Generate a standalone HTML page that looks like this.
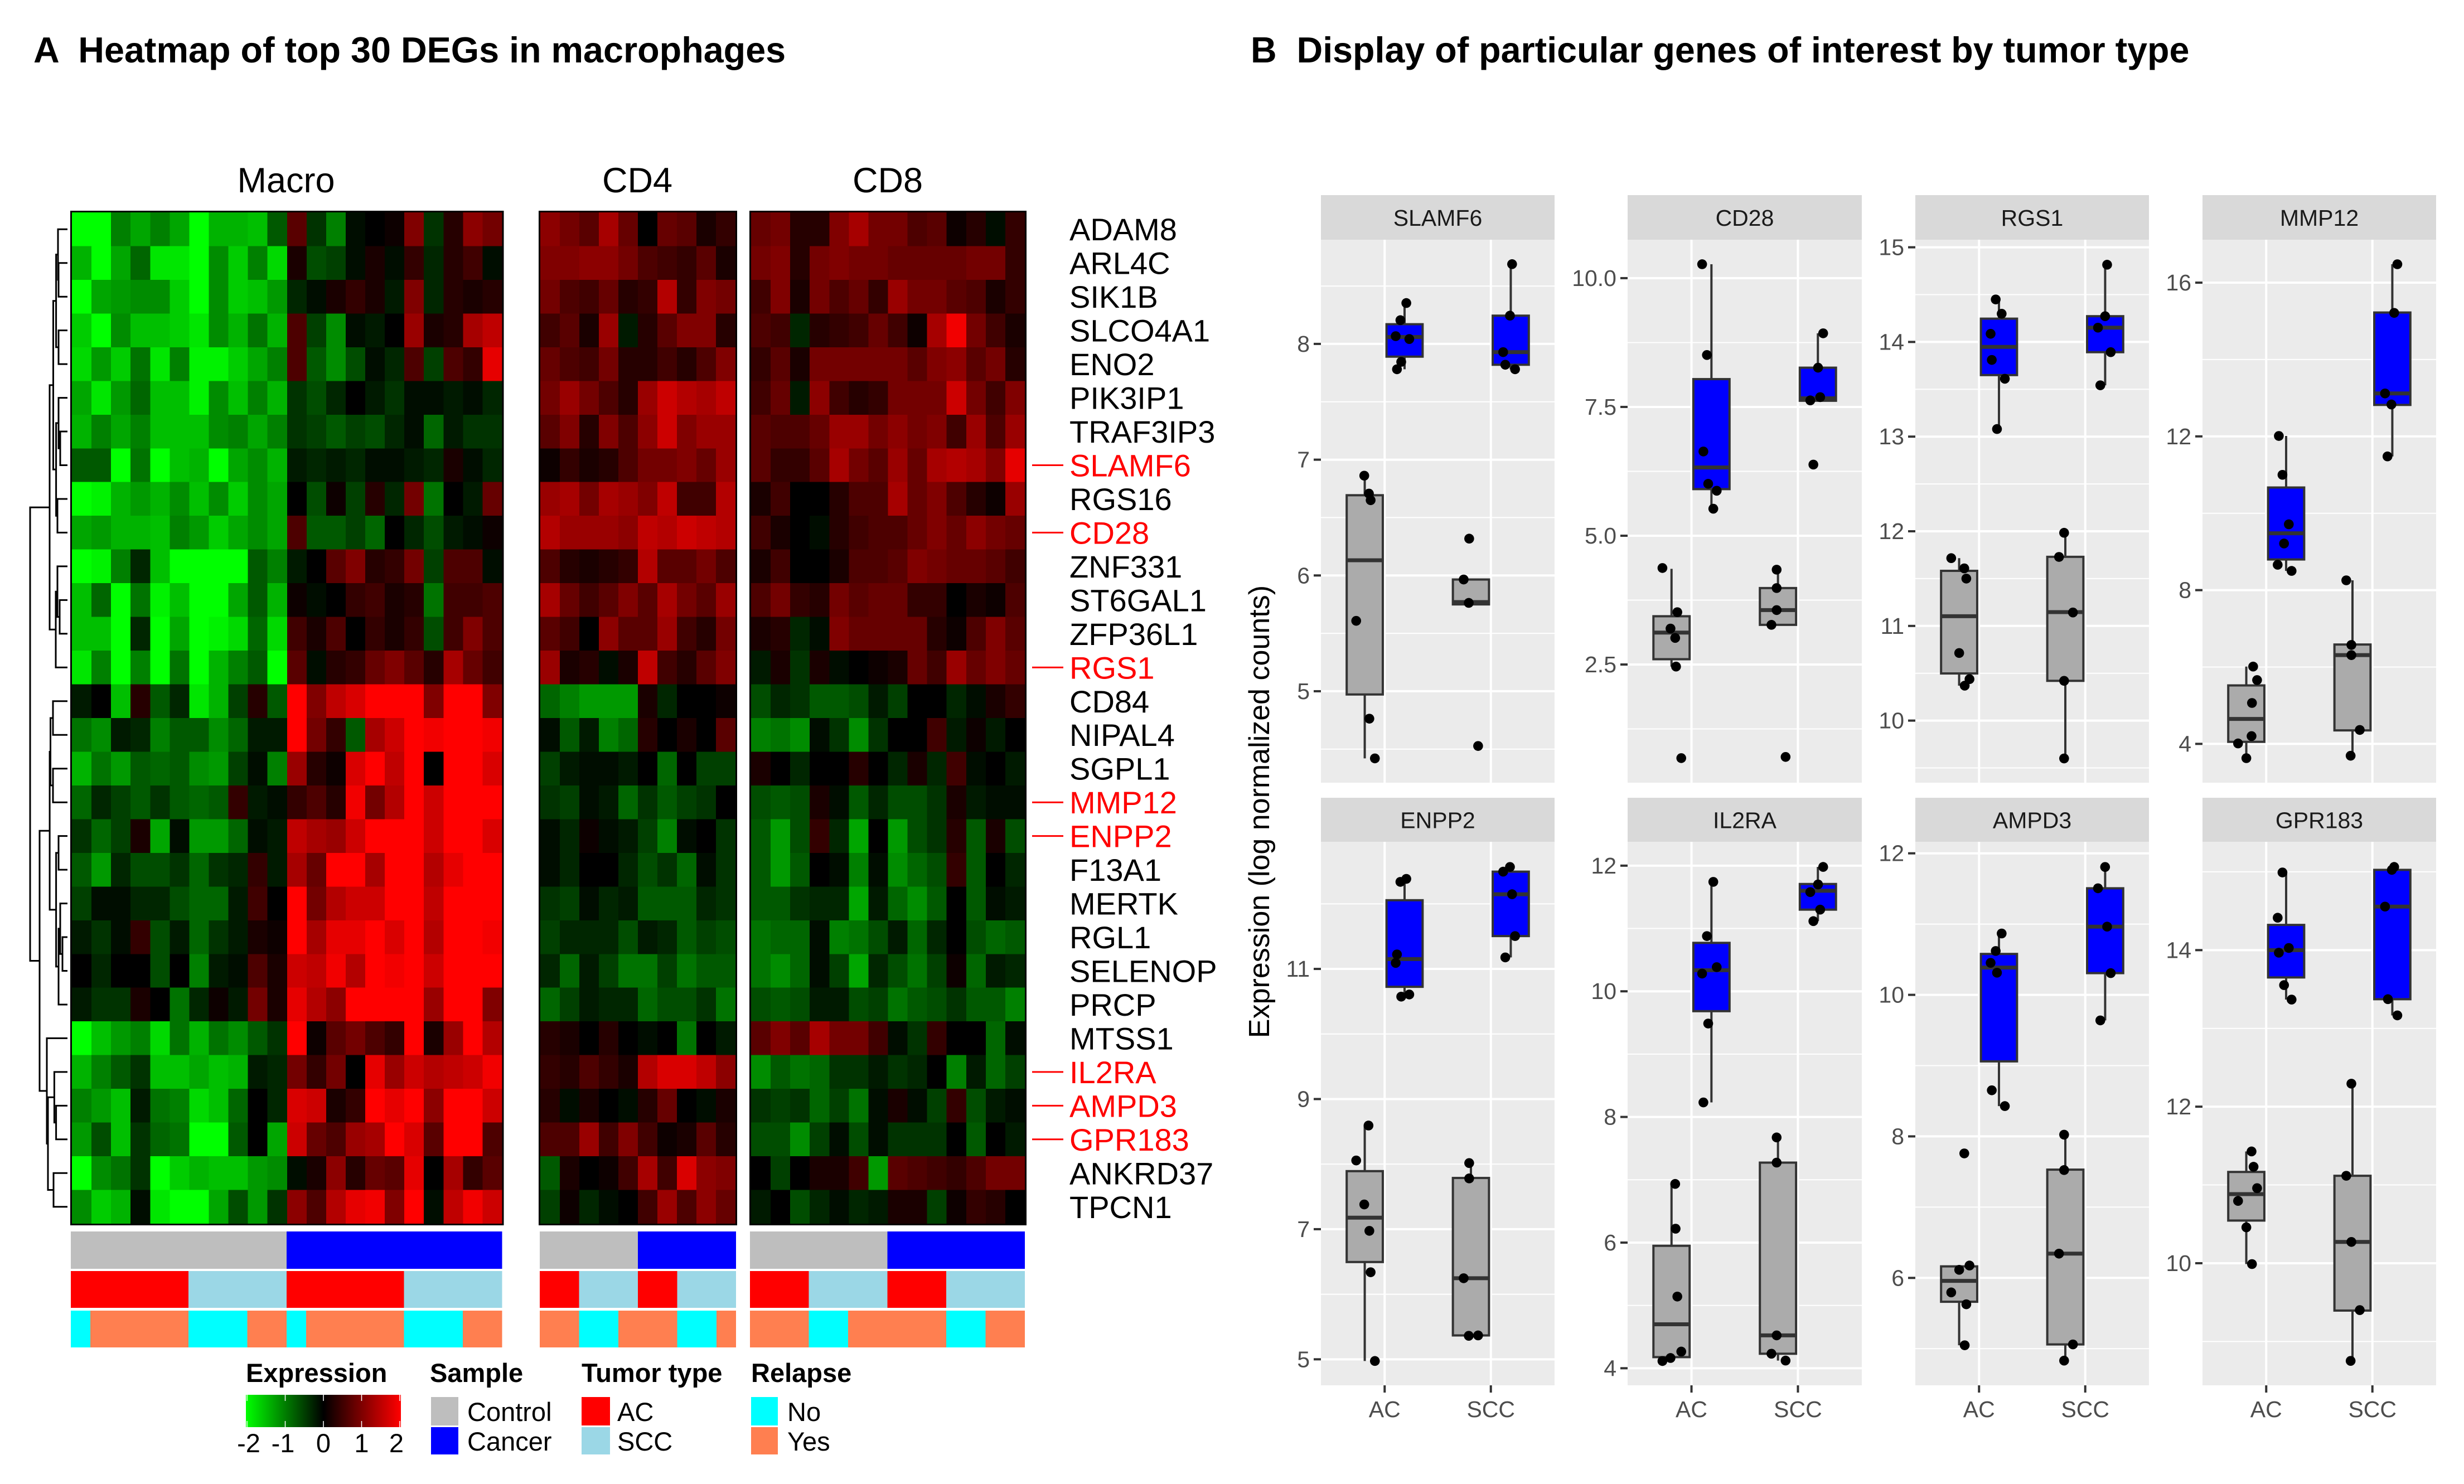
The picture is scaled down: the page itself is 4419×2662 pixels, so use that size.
<!DOCTYPE html>
<html lang="en">
<head>
<meta charset="utf-8">
<title>Heatmap of top 30 DEGs and genes of interest by tumor type</title>
<style>
html,body{margin:0;padding:0;background:#fff}
svg{display:block;font-family:"Liberation Sans",Arial,sans-serif}
</style>
</head>
<body>
<svg id="figure" xmlns="http://www.w3.org/2000/svg" width="4419" height="2662" viewBox="0 0 4419 2662">
<defs>
<linearGradient id="exprGrad" x1="0" x2="1" y1="0" y2="0">
<stop offset="0" stop-color="#00ff00"/><stop offset="0.5" stop-color="#000000"/><stop offset="1" stop-color="#ff0000"/>
</linearGradient>
</defs>
<rect x="0" y="0" width="4419" height="2662" fill="#fff"/>
<text x="60" y="112" font-size="64.7" font-weight="bold" xml:space="preserve">A  Heatmap of top 30 DEGs in macrophages</text>
<text x="2243" y="112" font-size="64.6" font-weight="bold" xml:space="preserve">B  Display of particular genes of interest by tumor type</text>
<text x="513" y="345" font-size="63" text-anchor="middle">Macro</text>
<text x="1143" y="345" font-size="63" text-anchor="middle">CD4</text>
<text x="1592" y="345" font-size="63" text-anchor="middle">CD8</text>
<g id="heat"></g>
<g id="dendro" fill="none" stroke="#000" stroke-width="3"></g>
<g id="genes"></g>
<g id="anno"></g>
<g>
<text x="441" y="2479" font-size="47" font-weight="bold">Expression</text>
<rect x="441" y="2502" width="278" height="58" fill="url(#exprGrad)"/>
<g id="cbTicks"></g>
<text x="771" y="2479" font-size="47" font-weight="bold">Sample</text>
<rect x="773" y="2506" width="49" height="51" fill="#bebebe"/>
<rect x="773" y="2560" width="49" height="49" fill="#0000ff"/>
<text x="838" y="2549" font-size="47">Control</text>
<text x="838" y="2602" font-size="47">Cancer</text>
<text x="1043" y="2479" font-size="47" font-weight="bold">Tumor type</text>
<rect x="1043" y="2506" width="51" height="51" fill="#ff0000"/>
<rect x="1043" y="2560" width="51" height="49" fill="#9bd7e6"/>
<text x="1107" y="2549" font-size="47">AC</text>
<text x="1107" y="2602" font-size="47">SCC</text>
<text x="1347" y="2479" font-size="47" font-weight="bold">Relapse</text>
<rect x="1347" y="2506" width="48" height="51" fill="#00ffff"/>
<rect x="1347" y="2560" width="48" height="49" fill="#ff7f50"/>
<text x="1412" y="2549" font-size="47">No</text>
<text x="1412" y="2602" font-size="47">Yes</text>
</g>
<g id="facets"></g>
<text transform="translate(2276,1456) rotate(-90)" font-size="52" text-anchor="middle">Expression (log normalized counts)</text>
</svg>
<script>
// ---------- heatmap data (z-score × 10) ----------
const geneNames = ["ADAM8","ARL4C","SIK1B","SLCO4A1","ENO2","PIK3IP1","TRAF3IP3","SLAMF6","RGS16","CD28","ZNF331","ST6GAL1","ZFP36L1","RGS1","CD84","NIPAL4","SGPL1","MMP12","ENPP2","F13A1","MERTK","RGL1","SELENOP","PRCP","MTSS1","IL2RA","AMPD3","GPR183","ANKRD37","TPCN1"];
const highlightedGenes = ["SLAMF6","CD28","RGS1","MMP12","ENPP2","IL2RA","AMPD3","GPR183"];
const macroValues = [
[-20,-20,-10,-13,-10,-13,-20,-14,-14,-15,-7,7,-4,-10,-1,0,1,10,-4,3,11,9],
[-14,-20,-13,-8,-18,-18,-20,-11,-16,-10,-17,2,-6,-5,-1,2,-1,4,-3,3,5,-1],
[-20,-13,-12,-11,-11,-16,-20,-11,-16,-15,-12,-3,-1,2,4,2,-2,10,-3,3,2,3],
[-16,-20,-11,-15,-15,-16,-18,-11,-14,-9,-14,6,-5,-11,-1,-2,0,12,2,3,13,15],
[-17,-12,-16,-9,-18,-10,-19,-19,-16,-13,-10,6,-7,-11,-6,-1,-3,6,-5,6,4,18],
[-13,-18,-12,-8,-15,-15,-19,-11,-15,-10,-14,-4,-6,-3,0,-2,-4,-1,-1,-2,-1,-3],
[-14,-10,-13,-10,-15,-15,-15,-11,-10,-13,-10,-4,-5,-7,-5,-6,-3,-1,-8,-2,-4,-4],
[-7,-7,-20,-9,-20,-15,-14,-20,-13,-11,-14,-2,-3,-2,-3,-1,-1,-2,-3,2,-1,-3],
[-20,-19,-14,-12,-14,-11,-15,-11,-16,-11,-13,0,-6,1,-5,3,-3,9,-9,0,-2,8],
[-13,-12,-14,-14,-15,-10,-12,-16,-13,-11,-13,6,-7,-7,-5,-8,0,-3,-6,-2,-1,1],
[-20,-19,-10,-3,-15,-20,-20,-20,-20,-7,-10,-2,0,7,10,3,4,9,-5,6,6,-1],
[-15,-8,-20,-9,-19,-15,-20,-20,-13,-7,-14,1,-1,0,4,5,2,3,-9,5,5,6],
[-15,-15,-20,-3,-20,-13,-20,-19,-17,-8,-17,5,2,6,0,4,2,4,-6,5,10,6],
[-18,-10,-20,-10,-20,-9,-20,-14,-10,-7,-20,7,-1,3,4,8,10,7,3,13,8,5],
[-2,0,-15,3,-7,-3,-18,-14,-5,3,-7,20,10,15,17,20,20,20,10,20,20,10],
[-9,-11,-2,-3,-10,-7,-7,-11,-8,-2,-2,20,9,4,-7,13,16,20,19,20,20,19],
[-14,-9,-12,-7,-8,-7,-11,-12,-5,-1,-10,12,3,1,17,20,15,20,0,20,20,17],
[-8,-3,-5,-7,-4,-7,-8,-7,4,-2,-1,4,6,3,19,9,14,20,16,20,20,20],
[-4,-8,-5,2,-13,-1,-12,-12,-8,-1,-2,15,13,12,16,20,20,20,16,20,20,17],
[-7,-12,-3,-6,-6,-4,-8,-4,-3,4,-2,13,8,20,20,13,20,20,14,18,20,20],
[-5,-1,-1,-3,-3,-6,-8,-8,-2,5,0,20,9,14,16,16,20,20,15,20,20,20],
[-2,-4,-1,4,-6,-2,-8,-4,-2,2,1,20,13,18,18,20,17,20,14,20,20,19],
[0,-3,0,0,-6,0,-10,-2,-1,6,2,16,15,19,14,20,19,20,16,20,20,20],
[-2,-4,-4,2,0,-9,-3,1,-2,9,2,18,14,11,20,20,20,20,12,20,20,10],
[-20,-15,-12,-10,-17,-9,-14,-9,-11,-7,-4,20,1,7,9,6,4,20,2,12,20,14],
[-14,-10,-7,-4,-15,-15,-13,-15,-14,-2,-3,9,4,9,0,18,12,16,14,15,16,19],
[-10,-12,-15,-2,-9,-10,-17,-15,-8,0,-3,17,16,2,4,20,18,20,11,20,20,16],
[-12,-6,-15,-4,-8,-9,-20,-20,-7,0,-13,16,8,6,12,13,20,17,7,20,20,6],
[-20,-11,-9,-4,-20,-16,-14,-15,-15,-12,-11,-1,2,11,3,8,7,18,0,13,4,7],
[-11,-16,-14,-1,-18,-20,-20,-13,-6,-12,-4,11,6,14,18,19,10,20,-1,15,19,16]
];
const cd4Values = [
[11,9,7,13,8,0,8,7,2,4],[10,10,11,11,9,6,5,4,7,2],[9,6,5,8,3,4,14,4,10,9],[5,7,2,12,-2,3,7,10,10,3],[8,6,5,9,3,3,5,3,6,10],
[9,12,9,6,3,12,16,14,13,15],[7,10,3,10,6,11,16,10,12,12],[1,4,2,3,6,9,9,10,8,12],[12,13,9,13,12,10,15,5,5,14],[14,12,12,12,11,15,14,16,15,14],
[6,3,2,3,4,14,7,7,9,6],[13,8,5,7,10,7,13,9,7,12],[7,5,0,11,7,7,12,5,3,9],[12,2,3,-1,2,15,5,3,7,10],[-8,-10,-12,-12,-12,2,-3,0,0,1],
[-1,-7,-2,-10,-8,3,0,2,0,7],[-5,-2,-1,-1,-2,0,-8,0,-5,-5],[-4,-5,-1,-2,-8,-4,-7,-5,-4,0],[-1,-3,1,-1,-2,-5,-10,-1,0,-4],[-1,-3,0,0,-3,-6,-4,-8,-1,-4],
[-4,-5,-1,-3,-2,-7,-7,-7,-3,-4],[-5,-3,-3,-3,-6,-2,-3,-7,-5,-6],[-3,-8,-2,-5,-9,-9,-5,-9,-7,-7],[-8,-5,-2,-3,-3,-8,-6,-6,-4,-9],[3,2,0,3,0,-1,0,-9,0,-2],
[4,3,6,4,2,14,17,17,15,11],[3,-1,2,0,-1,3,8,0,-1,2],[6,6,12,5,10,5,1,2,7,3],[-7,2,0,1,5,13,5,17,11,10],[-5,1,-3,-1,0,5,12,6,11,8]
];
const cd8Values = [
[8,9,3,3,10,13,9,9,6,7,1,3,-1,4],[9,10,3,9,10,9,9,8,8,8,8,9,9,4],[5,10,2,9,6,8,4,12,9,9,7,6,2,4],[6,5,-3,3,4,5,8,5,1,13,19,9,5,2],[4,7,2,9,9,9,9,9,7,10,11,7,9,3],
[5,8,-2,11,5,3,4,9,9,9,16,9,5,10],[7,6,6,8,12,12,9,11,9,10,5,12,6,12],[7,4,4,7,13,9,7,12,8,13,14,13,10,18],[2,5,0,0,3,6,6,13,8,10,6,3,1,12],[5,2,0,-1,3,5,6,6,8,10,8,11,9,8],
[2,5,0,0,2,6,6,7,10,9,8,8,7,5],[6,9,4,3,9,7,8,8,4,4,0,2,1,6],[2,3,-3,-1,10,8,8,8,8,3,1,6,10,7],[-2,2,-4,2,-1,0,1,2,8,5,12,8,10,8],[-6,-3,-4,-7,-7,-6,-2,-5,0,0,-3,-1,2,4],
[-10,-9,-11,-1,-4,-11,-4,0,0,5,-2,1,-2,0],[2,0,-3,0,0,3,0,-3,2,-3,5,-1,0,-2],[-6,-7,-6,2,-1,-7,-3,-6,-6,-4,2,-2,-1,-1],[-7,-12,-6,4,-3,-13,0,-12,-6,-4,3,-7,2,-6],[-7,-12,-7,0,-1,-10,-1,-11,-8,-6,4,-7,0,-3],
[-7,-7,-4,-3,-3,-13,-2,-8,-11,-7,0,-7,-1,-2],[-9,-8,-8,-1,-10,-9,-6,-2,-8,-3,0,-6,-8,-7],[-9,-11,-8,-1,-5,-13,-3,-6,-9,-5,1,-8,-2,-3],[-6,-7,-6,-2,-2,-6,-5,-9,-7,-6,-4,-7,-7,-10],[7,10,7,13,9,9,5,-1,-4,4,0,0,-8,-1],
[-11,-7,-9,-8,-4,-4,-2,-4,-3,0,-10,-2,-8,-5],[-4,-5,-4,-8,-5,-9,-1,2,-1,-5,4,-6,-2,-1],[-6,-6,-11,-5,-1,-6,-1,-4,-4,-4,0,-7,0,-2],[0,-5,0,2,2,5,-12,7,6,5,4,6,9,9],[-2,0,-6,-3,-1,-3,-2,2,2,-5,1,4,3,0]
];
// column annotations as [category, number of columns]
const macroSample = [["Control",11],["Cancer",11]];
const macroTumor = [["AC",6],["SCC",5],["AC",6],["SCC",5]];
const macroRelapse = [["No",1],["Yes",5],["No",3],["Yes",2],["No",1],["Yes",5],["No",3],["Yes",2]];
const cd4Sample = [["Control",5],["Cancer",5]];
const cd4Tumor = [["AC",2],["SCC",3],["AC",2],["SCC",3]];
const cd4Relapse = [["Yes",2],["No",2],["Yes",3],["No",2],["Yes",1]];
const cd8Sample = [["Control",7],["Cancer",7]];
const cd8Tumor = [["AC",3],["SCC",4],["AC",3],["SCC",4]];
const cd8Relapse = [["Yes",3],["No",2],["Yes",5],["No",2],["Yes",2]];
// dendrogram: [merge height, left child, right child]; numbers are row indices
const rowTree = [67,
 [32,
  [25.5,
   [20.4,[17,0,[16,1,2]],[16,3,4]],
   [20.4,[16,5,[13,6,7]],[18,8,9]]],
  [21,[18,10,[14,11,12]],13]],
 [50,
  [31.9,
   [30.5,[26,14,15],[26,16,17]],
   [20.4,[16,18,19],[16,[13,20,[9,21,22]],23]]],
  [37,24,[35,[23.6,25,[20.4,26,27]],[25,28,29]]]]];
const colorbarTicks = [-2,-1,0,1,2];

// ---------- boxplot data ----------
const facetGenes = ["SLAMF6","CD28","RGS1","MMP12","ENPP2","IL2RA","AMPD3","GPR183"];
const xCategories = ["AC","SCC"];
const yDomains = [[4.21,8.90],[0.206,10.746],[9.344,15.08],[2.99,17.117],[4.6,12.954],[3.728,12.38],[4.482,12.163],[8.44,15.384]];
const yTickValues = [[5,6,7,8],[2.5,5,7.5,10],[10,11,12,13,14,15],[4,8,12,16],[5,7,9,11],[4,6,8,10,12],[6,8,10,12],[10,12,14]];
const yTickLabels = [["5","6","7","8"],["2.5","5.0","7.5","10.0"],["10","11","12","13","14","15"],["4","8","12","16"],["5","7","9","11"],["4","6","8","10","12"],["6","8","10","12"],["10","12","14"]];
const groupNames = ["control-ac","control-scc","cancer-ac","cancer-scc"];
// [whisker low, q1, median, q3, whisker high] per group
const boxStats = [
[[4.42,4.972,6.131,6.693,6.862],[5.75,5.75,5.77,5.965,5.965],[7.781,7.89,8.06,8.17,8.353],[7.781,7.82,7.929,8.244,8.689]],
[[2.46,2.603,3.119,3.437,4.357],[3.27,3.27,3.556,3.984,4.341],[5.524,5.905,6.325,8.04,10.27],[7.62,7.62,7.667,8.262,8.929]],
[[10.369,10.498,11.103,11.582,11.716],[9.6,10.42,11.146,11.73,11.984],[13.08,13.65,13.948,14.246,14.449],[13.542,13.892,14.151,14.272,14.816]],
[[3.628,4.053,4.649,5.521,6.011],[3.691,4.351,6.309,6.585,8.255],[8.5,8.798,9.479,10.67,12.011],[11.479,12.819,13.117,15.223,16.479]],
[[4.974,6.495,7.177,7.892,8.593],[5.361,5.367,6.246,7.787,8.016],[10.574,10.725,11.151,12.056,12.384],[11.177,11.505,12.148,12.495,12.567]],
[[4.115,4.177,4.7,5.949,6.934],[4.122,4.231,4.523,7.273,7.674],[8.231,9.684,10.336,10.771,11.742],[11.117,11.3,11.6,11.708,11.98]],
[[5.048,5.663,5.958,6.163,6.163],[4.831,5.06,6.343,7.53,8.024],[8.428,9.06,10.386,10.578,10.867],[9.639,10.307,10.964,11.506,11.807]],
[[9.989,10.545,10.883,11.166,11.428],[8.752,9.395,10.272,11.117,12.294],[13.368,13.651,14,14.322,14.992],[13.166,13.373,14.556,15.025,15.063]]
];
const pointValues = [
[[6.862,6.707,6.65,5.608,4.763,4.42],[6.318,5.965,5.763,4.527],[8.353,8.205,8.067,8.042,7.845,7.781],[8.689,8.244,7.929,7.82,7.781]],
[[4.373,3.516,3.198,3.016,2.46,0.683],[4.341,3.984,3.556,3.27,0.706],[10.27,8.508,6.635,6.008,5.873,5.524],[8.929,8.262,7.69,7.627,6.381]],
[[11.716,11.608,11.5,10.714,10.438,10.369],[11.984,11.729,11.142,10.42,9.6],[14.449,14.298,14.086,13.81,13.611,13.08],[14.816,14.272,14.151,13.892,13.542]],
[[6.011,5.66,5.064,4.202,4.011,3.628],[8.255,6.574,6.309,4.362,3.691],[12.011,11,9.713,9.213,8.66,8.5],[16.479,15.213,13.117,12.83,11.479]],
[[8.593,8.056,7.38,6.974,6.338,4.974],[8.016,7.78,6.246,5.361,5.367],[12.384,12.338,11.223,11.092,10.607,10.574],[12.567,12.495,12.148,11.505,11.177]],
[[6.934,6.221,5.141,4.265,4.163,4.115],[7.674,7.273,4.523,4.231,4.122],[11.742,10.879,10.384,10.282,9.487,8.231],[11.98,11.701,11.579,11.3,11.117]],
[[7.759,6.175,6.114,5.795,5.627,5.048],[8.024,7.524,6.343,5.06,4.831],[10.867,10.62,10.452,10.313,8.651,8.428],[11.807,11.506,10.964,10.307,9.639]],
[[11.428,11.232,10.959,10.796,10.458,9.989],[12.294,11.117,10.272,9.401,8.752],[14.992,14.414,14.027,13.967,13.553,13.368],[15.063,15.025,14.556,13.373,13.166]]
];
// horizontal jitter of each point, in category units from the x tick
const pointJitter = [
[[-.192,-.148,-.132,-.268,-.144,-.092],[-.204,-.256,-.208,-.12],[.204,.148,.104,.232,.156,.116],[.2,.18,.116,.136,.228]],
[[-.273,-.133,-.197,-.153,-.145,-.096],[-.2,-.2,-.2,-.249,-.116],[.1,.145,.112,.157,.237,.205],[.237,.189,.209,.116,.145]],
[[-.262,-.139,-.12,-.187,-.09,-.135],[-.199,-.247,-.116,-.199,-.199],[.157,.213,.109,.12,.243,.169],[.206,.187,.12,.24,.142]],
[[-.123,-.086,-.134,-.138,-.265,-.187],[-.246,-.198,-.198,-.119,-.205],[.119,.153,.213,.168,.108,.239],[.235,.205,.119,.179,.142]],
[[-.152,-.268,-.192,-.144,-.132,-.092],[-.204,-.204,-.256,-.208,-.12],[.204,.148,.116,.104,.232,.156],[.18,.116,.2,.228,.136]],
[[-.153,-.149,-.133,-.096,-.197,-.273],[-.2,-.2,-.2,-.249,-.116],[.205,.145,.237,.1,.157,.112],[.237,.189,.116,.209,.145]],
[[-.139,-.09,-.187,-.262,-.12,-.135],[-.199,-.199,-.247,-.116,-.199],[.213,.157,.109,.169,.12,.243],[.187,.12,.206,.24,.142]],
[[-.138,-.119,-.086,-.265,-.187,-.134],[-.198,-.246,-.198,-.119,-.205],[.153,.108,.213,.119,.168,.239],[.205,.183,.119,.146,.235]]
];

// ---------- helpers ----------
const NS = "http://www.w3.org/2000/svg";
function mk(parent, tag, attrs, txt){
  const el = document.createElementNS(NS, tag);
  for (const k in attrs) el.setAttribute(k, attrs[k]);
  if (txt !== undefined) el.textContent = txt;
  parent.appendChild(el);
  return el;
}
function exprColor(v){
  const c = Math.min(1, Math.abs(v) / 20);
  const b = Math.round(c * 255);
  return v >= 0 ? "rgb(" + b + ",0,0)" : "rgb(0," + b + ",0)";
}
const heatTop = 381, heatBottom = 2195;
const rowH = (heatBottom - heatTop) / geneNames.length;
function rowY(i){ return heatTop + i * rowH; }
function rowCenter(i){ return rowY(i) + rowH / 2; }

// ---------- heatmaps ----------
const heatRoot = document.getElementById("heat");
const annoRoot = document.getElementById("anno");
const annoColors = {Control:"#bebebe",Cancer:"#0000ff",AC:"#ff0000",SCC:"#9bd7e6",No:"#00ffff",Yes:"#ff7f50"};
function drawHeat(key, values, x0, x1, ax0, ax1, sample, tumor, relapse){
  const g = mk(heatRoot, "g", {"shape-rendering":"crispEdges"});
  
  
  const nCol = values[0].length;
  const cw = (x1 - x0) / nCol;
  const acw = (ax1 - ax0) / nCol;
  values.forEach(function(row, r){
    row.forEach(function(v, c){
      const cell = mk(g, "rect", {x:(x0 + c * cw).toFixed(2), y:rowY(r).toFixed(2), width:(cw + 0.6).toFixed(2), height:(rowH + 0.6).toFixed(2), fill:exprColor(v)});
      
      
    });
  });
  const frame = mk(heatRoot, "rect", {x:x0 - 1.5, y:heatTop - 1.5, width:x1 - x0 + 3, height:heatBottom - heatTop + 3, fill:"none", stroke:"#000", "stroke-width":3});
  
  
  const tracks = [[sample,2209,67,"sample"],[tumor,2280,66,"tumor-type"],[relapse,2351,66,"relapse"]];
  tracks.forEach(function(t){
    let col = 0;
    t[0].forEach(function(run){
      const seg = mk(annoRoot, "rect", {x:(ax0 + col * acw).toFixed(2), y:t[1], width:(run[1] * acw).toFixed(2), height:t[2], fill:annoColors[run[0]], "shape-rendering":"crispEdges"});
      
      
      col += run[1];
    });
  });
}
drawHeat("macro", macroValues, 129, 900.5, 127, 900.5, macroSample, macroTumor, macroRelapse);
drawHeat("cd4", cd4Values, 969, 1319, 968, 1320, cd4Sample, cd4Tumor, cd4Relapse);
drawHeat("cd8", cd8Values, 1347, 1838, 1345, 1838, cd8Sample, cd8Tumor, cd8Relapse);

// ---------- gene labels ----------
const genesRoot = document.getElementById("genes");
geneNames.forEach(function(name, i){
  const hot = highlightedGenes.indexOf(name) >= 0;
  const label = mk(genesRoot, "text", {x:1918, y:(rowCenter(i) + 20).toFixed(1), "font-size":56, fill:hot ? "#ff0000" : "#000"}, name);
  
  
  if (hot){
    const mark = mk(genesRoot, "line", {x1:1851, x2:1907, y1:rowCenter(i).toFixed(1), y2:rowCenter(i).toFixed(1), stroke:"#ff0000", "stroke-width":3});
    
    
  }
});

// ---------- dendrogram ----------
const dendroRoot = document.getElementById("dendro");
function treeX(h){ return 121 - h; }
function drawTree(node){
  if (typeof node === "number") return {y:rowCenter(node), h:0};
  const a = drawTree(node[1]);
  const b = drawTree(node[2]);
  const d = "M" + treeX(a.h).toFixed(1) + " " + a.y.toFixed(1) + "H" + treeX(node[0]).toFixed(1) + "V" + b.y.toFixed(1) + "H" + treeX(b.h).toFixed(1);
  const branch = mk(dendroRoot, "path", {d:d});
  
  
  return {y:(a.y + b.y) / 2, h:node[0]};
}
drawTree(rowTree);

// ---------- colorbar ----------
const cbRoot = document.getElementById("cbTicks");
function cbX(v){ return 441 + (v + 2) / 4 * 274 + 2; }
colorbarTicks.forEach(function(v){
  const t1 = mk(cbRoot, "line", {x1:cbX(v), x2:cbX(v), y1:2502, y2:2513, stroke:"#fff", "stroke-width":1.5});
  
  
  const t2 = mk(cbRoot, "line", {x1:cbX(v), x2:cbX(v), y1:2549, y2:2560, stroke:"#fff", "stroke-width":1.5});
  
  
  const lab = mk(cbRoot, "text", {x:cbX(v) + (v === -2 ? 3 : v === 2 ? -6 : v === -1 ? -4 : 0), y:2605, "font-size":47, "text-anchor":"middle"}, String(v));
  
  
});

// ---------- facets ----------
const facetRoot = document.getElementById("facets");
const colLeft = [2369, 2919, 3435, 3950];
const colRight = [2788, 3339, 3854, 4369];
const rowGeom = [{strip:350, top:430, bottom:1404},{strip:1431, top:1510, bottom:2485}];
const groupDodge = [-0.1875, -0.1875, 0.1875, 0.1875];
const groupCat = [0, 1, 0, 1];
const groupFill = ["#ababab", "#ababab", "#0000ff", "#0000ff"];
const boxWidth = 0.34;

facetGenes.forEach(function(gene, p){
  const row = p < 4 ? 0 : 1;
  const geom = rowGeom[row];
  const L = colLeft[p % 4], R = colRight[p % 4];
  const dom = yDomains[p];
  const unit = (R - L) / 2.2;
  const xAt = function(cat, off){ return L + (0.6 + cat + off) * unit; };
  const yAt = function(v){ return geom.top + (dom[1] - v) / (dom[1] - dom[0]) * (geom.bottom - geom.top); };
  const g = mk(facetRoot, "g", {});
  
  

  const strip = mk(g, "rect", {x:L, y:geom.strip, width:R - L, height:geom.top - geom.strip, fill:"#d9d9d9"});
  
  
  const stripText = mk(g, "text", {x:(L + R) / 2, y:(geom.strip + geom.top) / 2 + 15, "font-size":41, "text-anchor":"middle", fill:"#1a1a1a"}, gene);
  
  
  const bg = mk(g, "rect", {x:L, y:geom.top, width:R - L, height:geom.bottom - geom.top, fill:"#ebebeb"});
  
  

  // gridlines
  const ticks = yTickValues[p];
  const step = ticks[1] - ticks[0];
  for (let k = -1; k < ticks.length; k++){
    const mv = ticks[0] + (k + 0.5) * step;
    if (mv > dom[0] && mv < dom[1]){
      const minor = mk(g, "line", {x1:L, x2:R, y1:yAt(mv), y2:yAt(mv), stroke:"#fff", "stroke-width":2});
      
      
    }
  }
  ticks.forEach(function(v, i){
    const major = mk(g, "line", {x1:L, x2:R, y1:yAt(v), y2:yAt(v), stroke:"#fff", "stroke-width":4});
    
    
    const tick = mk(g, "line", {x1:L - 13, x2:L, y1:yAt(v), y2:yAt(v), stroke:"#333", "stroke-width":4});
    
    
    const lab = mk(g, "text", {x:L - 20, y:yAt(v) + 14, "font-size":41, "text-anchor":"end", fill:"#4d4d4d"}, yTickLabels[p][i]);
    
    
  });
  xCategories.forEach(function(cat, c){
    const vline = mk(g, "line", {x1:xAt(c, 0), x2:xAt(c, 0), y1:geom.top, y2:geom.bottom, stroke:"#fff", "stroke-width":4});
    
    
    if (row === 1){
      const xt = mk(g, "line", {x1:xAt(c, 0), x2:xAt(c, 0), y1:geom.bottom, y2:geom.bottom + 13, stroke:"#333", "stroke-width":4});
      
      
      const xl = mk(g, "text", {x:xAt(c, 0), y:2542, "font-size":41, "text-anchor":"middle", fill:"#4d4d4d"}, cat);
      
      
    }
  });

  // boxes
  boxStats[p].forEach(function(s, gi){
    const cx = xAt(groupCat[gi], groupDodge[gi]);
    const hw = boxWidth / 2 * unit;
    const w1 = mk(g, "line", {x1:cx, x2:cx, y1:yAt(s[3]), y2:yAt(s[4]), stroke:"#333", "stroke-width":4});
    
    
    const w2 = mk(g, "line", {x1:cx, x2:cx, y1:yAt(s[1]), y2:yAt(s[0]), stroke:"#333", "stroke-width":4});
    
    
    const box = mk(g, "rect", {x:cx - hw, y:yAt(s[3]), width:2 * hw, height:yAt(s[1]) - yAt(s[3]), fill:groupFill[gi], stroke:"#333", "stroke-width":4});
    
    
    const med = mk(g, "line", {x1:cx - hw, x2:cx + hw, y1:yAt(s[2]), y2:yAt(s[2]), stroke:"#333", "stroke-width":7});
    
    
  });
  // points
  pointValues[p].forEach(function(vals, gi){
    vals.forEach(function(v, i){
      const dot = mk(g, "circle", {cx:xAt(groupCat[gi], pointJitter[p][gi][i]), cy:yAt(v), r:8.8, fill:"#000"});
      
      
    });
  });
});
</script>
</body>
</html>
